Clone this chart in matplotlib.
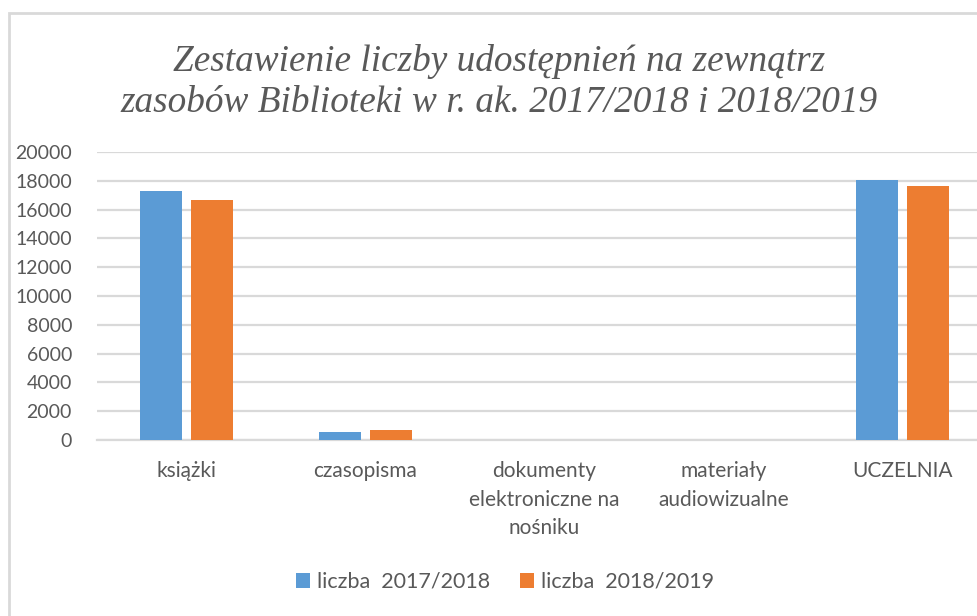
import numpy as np
import matplotlib.pyplot as plt
from matplotlib.patches import Rectangle

categories = ["książki", "czasopisma", "dokumenty\nelektroniczne na\nnośniku",
              "materiały\naudiowizualne", "UCZELNIA"]
vals_1718 = [17300, 530, 0, 0, 18050]
vals_1819 = [16700, 700, 0, 0, 17650]
labels = ["liczba  2017/2018", "liczba  2018/2019"]
yticks = list(range(0, 20001, 2000))

blue = "#5B9BD5"
orange = "#ED7D31"
grid = "#D9D9D9"
txt = "#595959"

plt.rcParams['font.family'] = ['Lato', 'DejaVu Sans']

fig = plt.figure(figsize=(9.77, 6.16), dpi=100)
ax = fig.add_axes([97 / 977, 1 - 440 / 616, 895 / 977, 288 / 616])

x = np.arange(len(categories))
w = 0.23
ax.bar(x - 0.1425, vals_1718, w, color=blue, label=labels[0], zorder=3)
ax.bar(x + 0.1425, vals_1819, w, color=orange, label=labels[1], zorder=3)

ax.set_xlim(-0.5, len(categories) - 0.5)
ax.set_ylim(0, 20000)
ax.set_yticks(yticks)
ax.set_yticklabels([str(v) for v in yticks])
ax.set_xticks(x)
ax.set_xticklabels(categories, linespacing=1.55)
ax.yaxis.grid(True, color=grid, linewidth=1.6, zorder=0)
for s in ["top", "right", "left"]:
    ax.spines[s].set_visible(False)
ax.spines["bottom"].set_color(grid)
ax.spines["bottom"].set_linewidth(1.6)
ax.tick_params(axis="y", length=0, pad=18, labelsize=14, labelcolor=txt)
ax.tick_params(axis="x", length=0, pad=15, labelsize=15, labelcolor=txt)

fig.text(499 / 977, 1 - 82 / 616,
         "Zestawienie liczby udostępnień na zewnątrz\nzasobów Biblioteki w r. ak. 2017/2018 i 2018/2019",
         ha="center", va="center", fontsize=26.8, style="italic",
         family="Liberation Serif", color=txt, linespacing=1.25)

fig.legend(loc="center", bbox_to_anchor=(505 / 977, 1 - 582 / 616), ncol=2,
           frameon=False, fontsize=15.5, labelcolor=txt, handlelength=0.65,
           handleheight=0.65, handletextpad=0.3, columnspacing=1.4)

fig.patches.append(Rectangle((9 / 977, -0.1), 2, 1.1 - 13 / 616,
                             transform=fig.transFigure, fill=False,
                             edgecolor=grid, linewidth=2))

plt.savefig("out.png", dpi=100)
